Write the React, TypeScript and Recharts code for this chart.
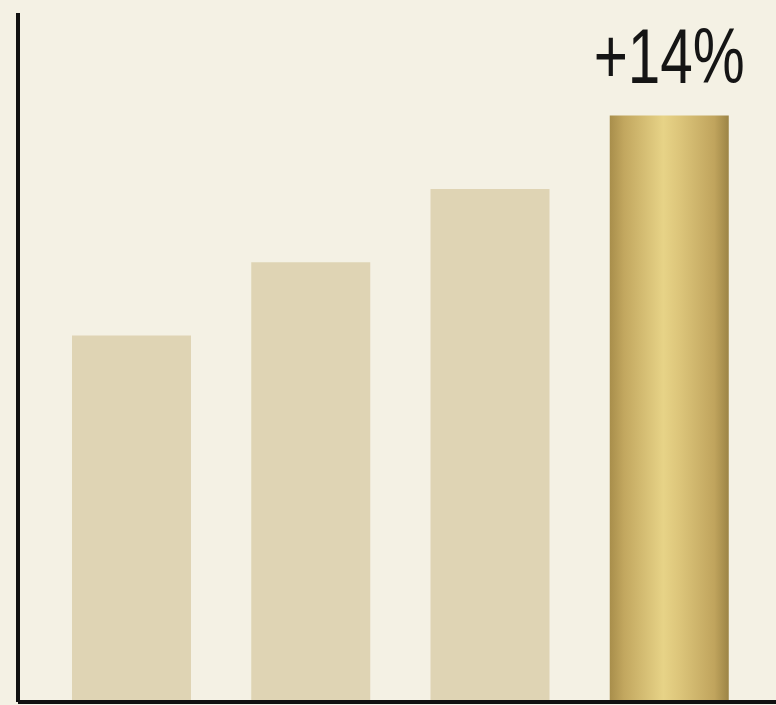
import React from 'react';
import { BarChart, Bar, XAxis, YAxis, Cell, LabelList } from 'recharts';

const categories = ['A', 'B', 'C', 'D'];
const values = [100, 120, 140, 160];
const labels = ['', '', '', '+14%'];

const data = categories.map((name, i) => ({ name, value: values[i], label: labels[i] }));

const GrowthLabel = (props: any) => {
  const { x, y, width, value } = props;
  if (!value) return null;
  return (
    <text
      x={x + width / 2}
      y={y - 33}
      textAnchor="middle"
      fontSize={78}
      fontFamily="'Liberation Sans', Arial, sans-serif"
      fill="#151515"
      textLength={151}
      lengthAdjust="spacingAndGlyphs"
    >
      {value}
    </text>
  );
};

export default function App() {
  return (
    <div style={{ width: 776, height: 705, background: '#f4f1e4', position: 'absolute', left: 0, top: 0 }}>
      <style dangerouslySetInnerHTML={{ __html: `body { margin: 0; background: #f4f1e4; }` }} />
      <BarChart
        width={776}
        height={705}
        data={data}
        margin={{ top: 13, right: 0, left: 17, bottom: 2 }}
        barSize={119}
      >
        <defs>
          <linearGradient id="goldBar" x1="0" y1="0" x2="1" y2="0">
            <stop offset="0%" stopColor="#a88e4b" />
            <stop offset="12%" stopColor="#c2a75f" />
            <stop offset="45%" stopColor="#e7d387" />
            <stop offset="58%" stopColor="#ddc67b" />
            <stop offset="88%" stopColor="#c0a45d" />
            <stop offset="100%" stopColor="#9c8445" />
          </linearGradient>
        </defs>
        <XAxis
          dataKey="name"
          height={1}
          tick={false}
          tickLine={false}
          axisLine={{ stroke: '#111', strokeWidth: 4 }}
          padding={{ left: 24, right: 17 }}
        />
        <YAxis
          width={1}
          domain={[0, 188]}
          tick={false}
          tickLine={false}
          axisLine={{ stroke: '#111', strokeWidth: 4 }}
        />
        <Bar dataKey="value" isAnimationActive={false}>
          {data.map((d, i) => (
            <Cell key={d.name} fill={i === data.length - 1 ? 'url(#goldBar)' : '#dfd4b4'} />
          ))}
          <LabelList dataKey="label" content={GrowthLabel} />
        </Bar>
      </BarChart>
    </div>
  );
}
